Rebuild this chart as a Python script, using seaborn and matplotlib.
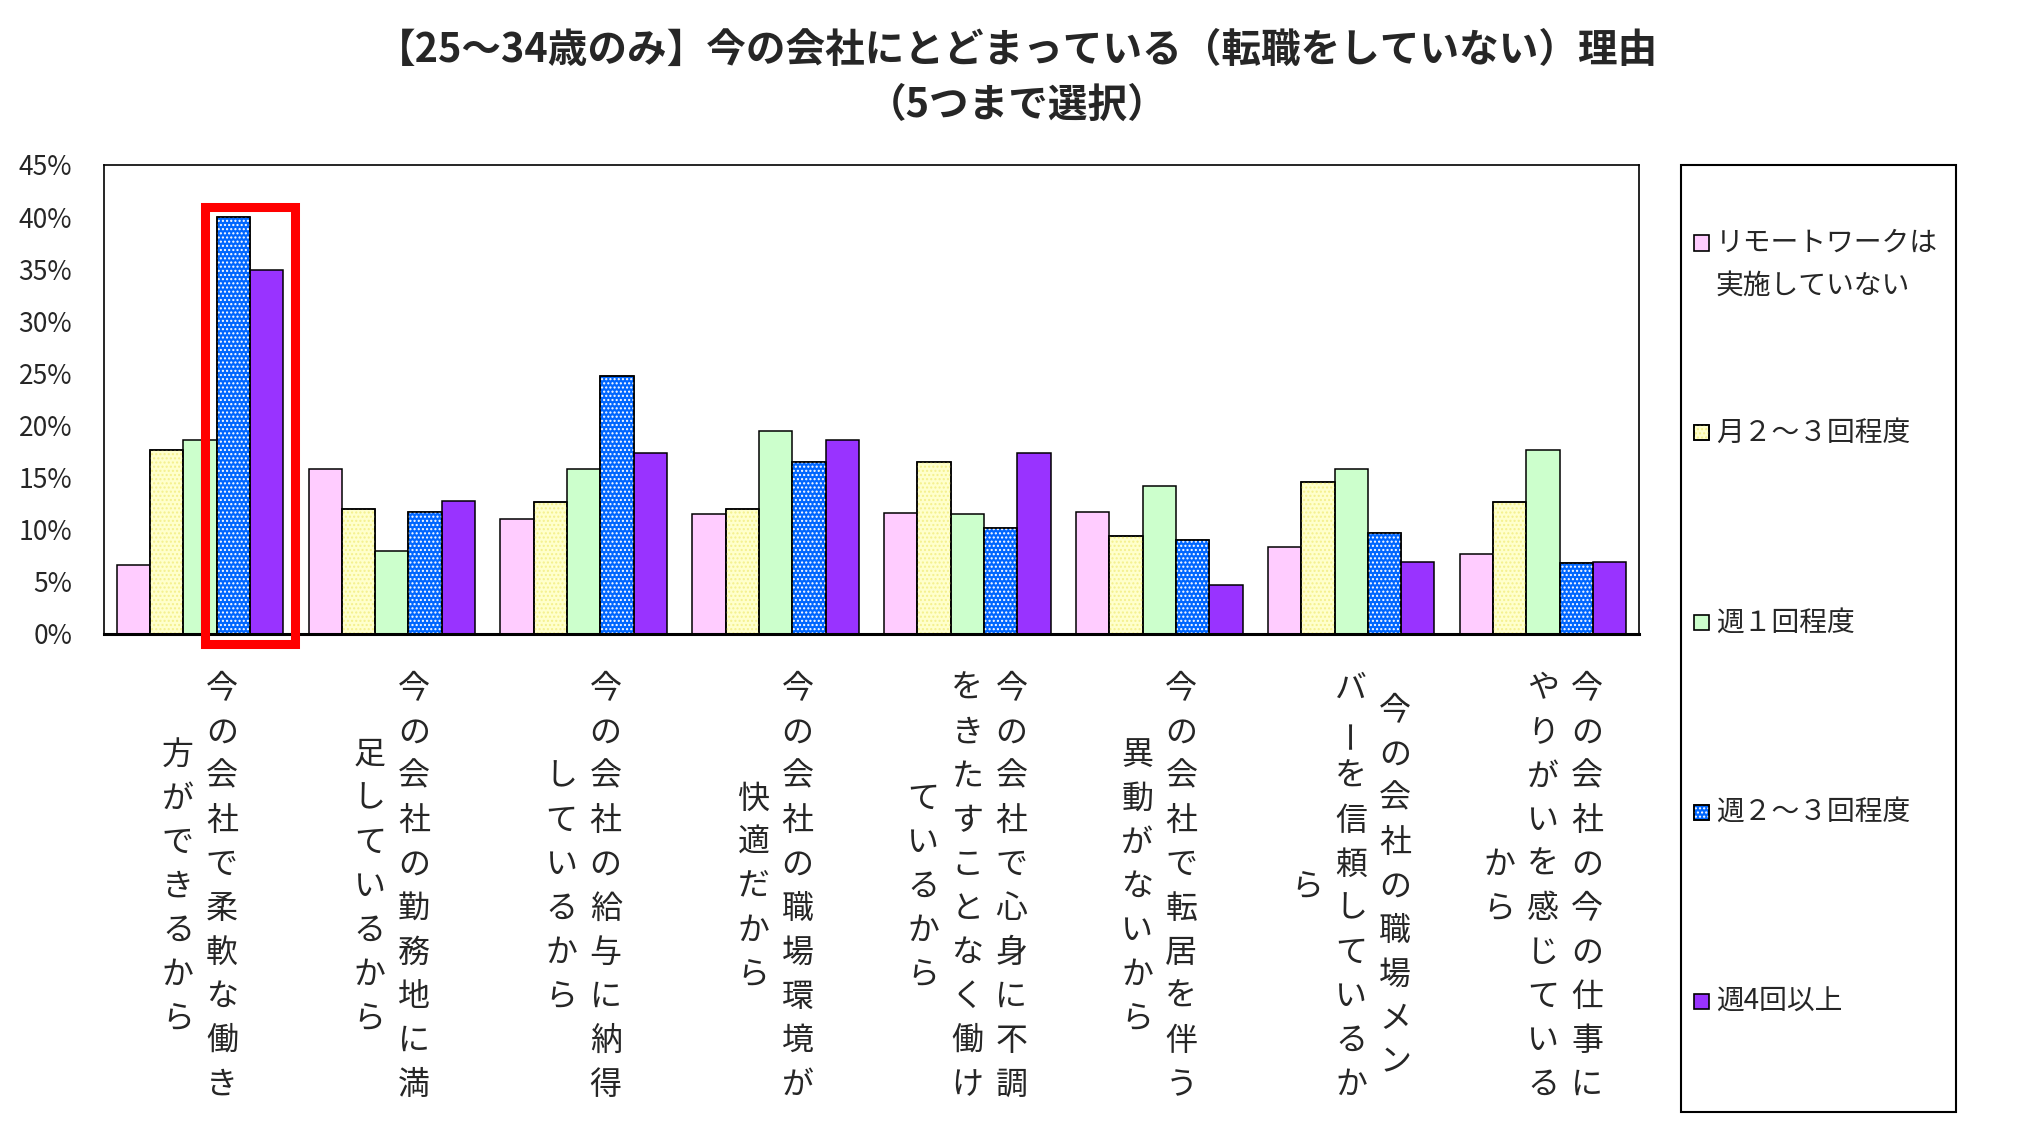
import numpy as np
import pandas as pd
import matplotlib
matplotlib.use('Agg')
import matplotlib.pyplot as plt
from matplotlib.patches import Rectangle
from matplotlib.ticker import FuncFormatter
import seaborn as sns

# Data (percent)
reason_lines = [
    ["今の会社で柔軟な働き", "方ができるから"],
    ["今の会社の勤務地に満", "足しているから"],
    ["今の会社の給与に納得", "しているから"],
    ["今の会社の職場環境が", "快適だから"],
    ["今の会社で心身に不調", "をきたすことなく働け", "ているから"],
    ["今の会社で転居を伴う", "異動がないから"],
    ["今の会社の職場メン", "バーを信頼しているか", "ら"],
    ["今の会社の今の仕事に", "やりがいを感じている", "から"],
]
reasons = ["".join(r) for r in reason_lines]

series = ["リモートワークは\n実施していない", "月２〜３回程度", "週１回程度", "週２〜３回程度", "週4回以上"]
no_remote = [6.6, 15.8, 11.0, 11.5, 11.6, 11.7, 8.3, 7.7]
monthly = [17.7, 12.0, 12.7, 12.0, 16.5, 9.4, 14.6, 12.7]
weekly_1 = [18.6, 8.0, 15.8, 19.5, 11.5, 14.2, 15.8, 17.7]
weekly_2_3 = [40.0, 11.7, 24.8, 16.5, 10.2, 9.0, 9.7, 6.8]
weekly_4 = [34.9, 12.8, 17.4, 18.6, 17.4, 4.7, 6.9, 6.9]

colors = ["#FFCCFF", "#FFFFCC", "#CCFFCC", "#0066FF", "#9933FF"]
dot_colors = [None, '#F4F08C', None, 'white', None]
yticks = list(range(0, 50, 5))

df = pd.DataFrame({
    'reason': reasons * 5,
    'series': np.repeat(series, len(reasons)),
    'pct': no_remote + monthly + weekly_1 + weekly_2_3 + weekly_4,
})

sns.set_style('white')
plt.rcParams['font.family'] = ['Noto Sans CJK JP', 'DejaVu Sans']
plt.rcParams['hatch.linewidth'] = 1.0

W, H = 2034, 1129
fig = plt.figure(figsize=(W / 100, H / 100), dpi=100)
ax = fig.add_axes([104 / W, 1 - 634 / H, (1639 - 104) / W, (634 - 165) / H])

sns.barplot(data=df, x='reason', y='pct', hue='series', order=reasons, hue_order=series,
            palette=colors, saturation=1, width=0.868, edgecolor='black', linewidth=1.1,
            ax=ax, legend=False)

# dotted fills (blue: white dots, yellow: faint dots)
for idx, hcol in enumerate(dot_colors):
    if hcol is None:
        continue
    for bar in ax.containers[idx]:
        ax.add_patch(Rectangle(bar.get_xy(), bar.get_width(), bar.get_height(), fill=False,
                               hatch='....', edgecolor=hcol, linewidth=0, zorder=bar.get_zorder() + 0.1))
        ax.add_patch(Rectangle(bar.get_xy(), bar.get_width(), bar.get_height(), fill=False,
                               edgecolor='black', linewidth=1.1, zorder=bar.get_zorder() + 0.2))

ax.set_xlim(-0.5, len(reasons) - 0.5)
ax.set_ylim(0, 45)
ax.set_yticks(yticks)
ax.yaxis.set_major_formatter(FuncFormatter(lambda v, p: f"{int(v)}%"))
ax.tick_params(axis='y', length=0, pad=23, labelsize=19)
ax.tick_params(axis='x', length=0)
ax.set_xticklabels([])
ax.set_xlabel('')
ax.set_ylabel('')
for side in ['top', 'right', 'left']:
    ax.spines[side].set_color('black')
    ax.spines[side].set_linewidth(1.2)
ax.spines['bottom'].set_color('black')
ax.spines['bottom'].set_linewidth(2.2)

# vertical category labels (columns right to left, each centred)
pitch = 31.7
center_below = 182
for i, cols in enumerate(reason_lines):
    ncol = len(cols)
    for j, col in enumerate(cols):
        dx = ((ncol - 1) / 2 - j) * pitch
        n = len(col)
        for k, ch in enumerate(col):
            dy = -center_below + ((n - 1) / 2 - k) * pitch
            ax.annotate(ch, xy=(i, 0), xycoords=('data', 'axes fraction'), xytext=(dx, dy),
                        textcoords='offset points', ha='center', va='center', fontsize=23,
                        rotation=90 if ch == 'ー' else 0, annotation_clip=False)

# red highlight around the two tallest bars of the first reason
b_left = ax.containers[3][0]
b_right = ax.containers[4][0]
pad_x = 0.06
pad_y = 1.0
x0 = b_left.get_x() - pad_x
x1 = b_right.get_x() + b_right.get_width() + pad_x
y1 = max(b_left.get_height(), b_right.get_height()) + pad_y
ax.add_patch(Rectangle((x0, -pad_y), x1 - x0, y1 + pad_y, fill=False, edgecolor='#FF0000',
                       linewidth=6.5, clip_on=False, zorder=10))

# title
fig.text(0.5, 1 - 50 / H, "【25～34歳のみ】今の会社にとどまっている（転職をしていない）理由",
         ha='center', va='center', fontsize=28.5, fontweight='bold')
fig.text(0.5, 1 - 105 / H, "（5つまで選択）", ha='center', va='center', fontsize=28.5, fontweight='bold')

# legend box: entries on an even pitch, first line of each label next to its marker
fig.add_artist(Rectangle((1681 / W, 1 - 1112 / H), (1956 - 1681) / W, (1112 - 165) / H,
                         transform=fig.transFigure, fill=False, edgecolor='black', linewidth=1.5))
entry_y0, entry_pitch, line_pitch, box = 243, 189.7, 43, 15
for i, (name, c, hcol) in enumerate(zip(series, colors, dot_colors)):
    yc = entry_y0 + i * entry_pitch
    xy = (1694 / W, 1 - (yc + box / 2) / H)
    wh = (box / W, box / H)
    fig.add_artist(Rectangle(xy, *wh, transform=fig.transFigure, facecolor=c, edgecolor='black', linewidth=1.2))
    if hcol is not None:
        fig.add_artist(Rectangle(xy, *wh, transform=fig.transFigure, fill=False, hatch='....',
                                 edgecolor=hcol, linewidth=0))
        fig.add_artist(Rectangle(xy, *wh, transform=fig.transFigure, fill=False, edgecolor='black', linewidth=1.2))
    for k, line in enumerate(name.split('\n')):
        fig.text(1716 / W, 1 - (yc + k * line_pitch) / H, line, ha='left', va='center', fontsize=20)

fig.savefig('out.png', dpi=100)
